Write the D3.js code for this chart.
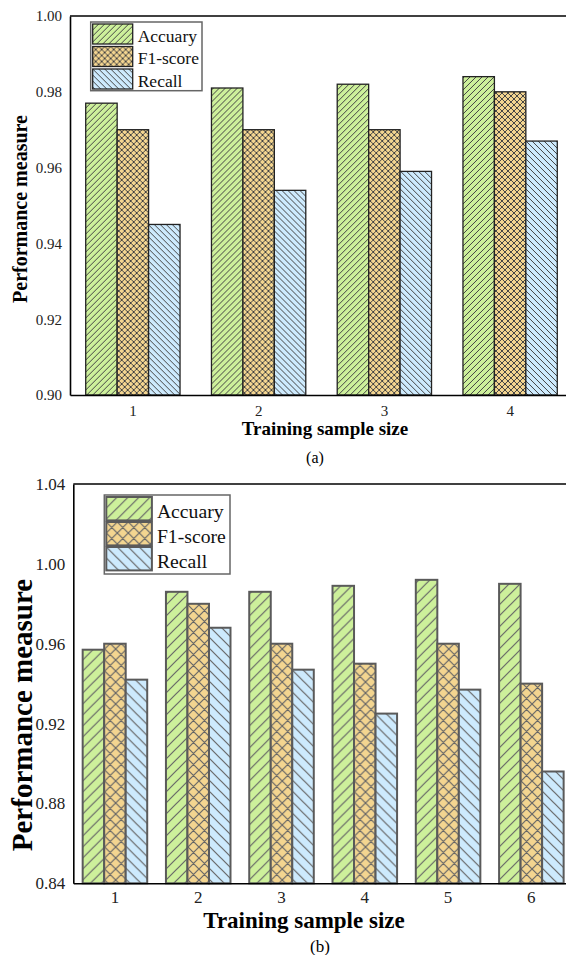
<!DOCTYPE html>
<html>
<head>
<meta charset="utf-8">
<script src="https://cdn.jsdelivr.net/npm/d3@7"></script>
<style>
  body { margin: 0; background: #fff; }
  svg { display: block; }
</style>
</head>
<body>
<svg width="566" height="955"></svg>
<script>
// series and categories
const seriesNames = ['Accuary', 'F1-score', 'Recall'];

// panel (a)
const categoriesA = ['1', '2', '3', '4'];
const accuaryA = [0.977, 0.981, 0.982, 0.984];
const f1A = [0.970, 0.970, 0.970, 0.980];
const recallA = [0.945, 0.954, 0.959, 0.967];
const yTicksA = [0.90, 0.92, 0.94, 0.96, 0.98, 1.00];

// panel (b)
const categoriesB = ['1', '2', '3', '4', '5', '6'];
const accuaryB = [0.957, 0.986, 0.986, 0.989, 0.992, 0.990];
const f1B = [0.960, 0.980, 0.960, 0.950, 0.960, 0.940];
const recallB = [0.942, 0.968, 0.947, 0.925, 0.937, 0.896];
const yTicksB = [0.84, 0.88, 0.92, 0.96, 1.00, 1.04];

const colors = ['#cdf09b', '#f3d590', '#cdeafd'];
const serif = '"Liberation Serif", "Times New Roman", Times, serif';

const svg = d3.select('svg');
const defs = svg.append('defs');

// hatch patterns: '/', 'x', '\'
function makePatterns(id, s, lineColor, lw) {
  const paths = [
    `M-1,1 l2,-2 M0,${s} l${s},-${s} M${s - 1},${s + 1} l2,-2`,
    `M-1,1 l2,-2 M0,${s} l${s},-${s} M${s - 1},${s + 1} l2,-2 M0,0 l${s},${s} M-1,${s - 1} l2,2 M${s - 1},-1 l2,2`,
    `M0,0 l${s},${s} M-1,${s - 1} l2,2 M${s - 1},-1 l2,2`
  ];
  paths.forEach((p, i) => {
    const pat = defs.append('pattern')
      .attr('id', `${id}${i}`)
      .attr('patternUnits', 'userSpaceOnUse')
      .attr('width', s).attr('height', s);
    pat.append('rect').attr('width', s).attr('height', s).attr('fill', colors[i]);
    pat.append('path').attr('d', p)
      .attr('stroke', lineColor).attr('stroke-width', lw).attr('fill', 'none');
  });
}
makePatterns('pa', 6, '#444', 1);
makePatterns('pb', 11, '#666', 1.2);

function drawPanel(cfg) {
  const {cats, series, ticks, left, top, bottom, right, inner} = cfg;
  const g = svg.append('g');

  const x0 = d3.scaleBand().domain(cats).range([left, right])
    .paddingInner(inner).paddingOuter(inner / 2);
  const x1 = d3.scaleBand().domain(seriesNames).range([0, x0.bandwidth()]);
  const y = d3.scaleLinear().domain([ticks[0], ticks[ticks.length - 1]]).range([bottom, top]);

  const rows = cats.map((c, i) => ({cat: c, values: series.map((s, j) => ({name: seriesNames[j], idx: j, v: s[i]}))}));

  g.selectAll('g.grp').data(rows).enter().append('g')
    .attr('class', 'grp')
    .attr('transform', d => `translate(${x0(d.cat)},0)`)
    .selectAll('rect').data(d => d.values).enter().append('rect')
    .attr('x', d => x1(d.name))
    .attr('y', d => y(d.v))
    .attr('width', x1.bandwidth())
    .attr('height', d => y(ticks[0]) - y(d.v))
    .attr('fill', d => `url(#${cfg.pid}${d.idx})`)
    .attr('stroke', cfg.barStroke)
    .attr('stroke-width', cfg.barStrokeW);

  // axes
  const ya = g.append('g').attr('transform', `translate(${left},0)`)
    .call(d3.axisLeft(y).tickValues(ticks).tickFormat(d3.format('.2f')).tickSize(0).tickPadding(8));
  ya.select('.domain').attr('stroke', '#000').attr('stroke-width', 1.6);
  ya.attr('font-family', serif).attr('font-size', cfg.tickFont);
  ya.selectAll('text').attr('fill', '#222');

  const xa = g.append('g').attr('transform', `translate(0,${bottom})`)
    .call(d3.axisBottom(x0).tickSize(0).tickPadding(cfg.xPad));
  xa.select('.domain').attr('stroke', '#000').attr('stroke-width', 1.6);
  xa.attr('font-family', serif).attr('font-size', cfg.tickFont);
  xa.selectAll('text').attr('fill', '#222');

  g.append('line').attr('x1', left).attr('x2', right).attr('y1', top).attr('y2', top)
    .attr('stroke', '#000').attr('stroke-width', 1.6);

  // axis titles
  g.append('text')
    .attr('transform', `translate(${cfg.yLabelX},${cfg.yLabelY}) rotate(-90)`)
    .attr('text-anchor', 'middle').attr('dy', '0.35em')
    .attr('font-weight', 'bold').attr('font-size', cfg.yLabelFont)
    .text('Performance measure');
  g.append('text')
    .attr('x', cfg.xLabelX).attr('y', cfg.xLabelY)
    .attr('text-anchor', 'middle')
    .attr('font-weight', 'bold').attr('font-size', cfg.xLabelFont)
    .text('Training sample size');
  g.append('text')
    .attr('x', cfg.capX).attr('y', cfg.capY)
    .attr('text-anchor', 'middle').attr('font-size', cfg.capFont)
    .text(cfg.caption);

  // legend
  const L = cfg.legend;
  g.append('rect').attr('x', L.x).attr('y', L.y).attr('width', L.w).attr('height', L.h)
    .attr('fill', '#fff').attr('stroke', '#666').attr('stroke-width', 1.5);
  const items = g.selectAll('g.leg').data(seriesNames).enter().append('g')
    .attr('class', 'leg')
    .attr('transform', (d, i) => `translate(${L.x + 2},${L.y + 2 + i * L.step})`);
  items.append('rect')
    .attr('width', L.sw).attr('height', L.sh)
    .attr('fill', (d, i) => `url(#${cfg.pid}${i})`)
    .attr('stroke', cfg.barStroke).attr('stroke-width', cfg.barStrokeW);
  items.append('text')
    .attr('x', L.sw + 5).attr('y', L.sh - 2.5)
    .attr('font-size', L.font).attr('fill', '#111')
    .text(d => d);
}

drawPanel({
  pid: 'pa', cats: categoriesA, series: [accuaryA, f1A, recallA], ticks: yTicksA,
  left: 70, top: 16, bottom: 395, right: 573, inner: 0.25,
  barStroke: '#222', barStrokeW: 1.3, tickFont: 15, xPad: 10,
  yLabelX: 20, yLabelY: 209, yLabelFont: 20,
  xLabelX: 325, xLabelY: 435, xLabelFont: 19,
  capX: 315, capY: 463, capFont: 16, caption: '(a)',
  legend: {x: 90.7, y: 22, w: 111.3, h: 68.7, step: 22.5, sw: 40, sh: 20, font: 17.5}
});

drawPanel({
  pid: 'pb', cats: categoriesB, series: [accuaryB, f1B, recallB], ticks: yTicksB,
  left: 73.3, top: 484, bottom: 883.3, right: 573, inner: 0.225,
  barStroke: '#5a5a5a', barStrokeW: 2, tickFont: 17, xPad: 8,
  yLabelX: 22, yLabelY: 715, yLabelFont: 29,
  xLabelX: 304, xLabelY: 928, xLabelFont: 23,
  capX: 320, capY: 952, capFont: 17, caption: '(b)',
  legend: {x: 104.3, y: 495, w: 125.7, h: 79, step: 25, sw: 45.6, sh: 23.4, font: 19.7}
});

// every text in the serif face
svg.selectAll('text').attr('font-family', serif);
</script>
</body>
</html>
